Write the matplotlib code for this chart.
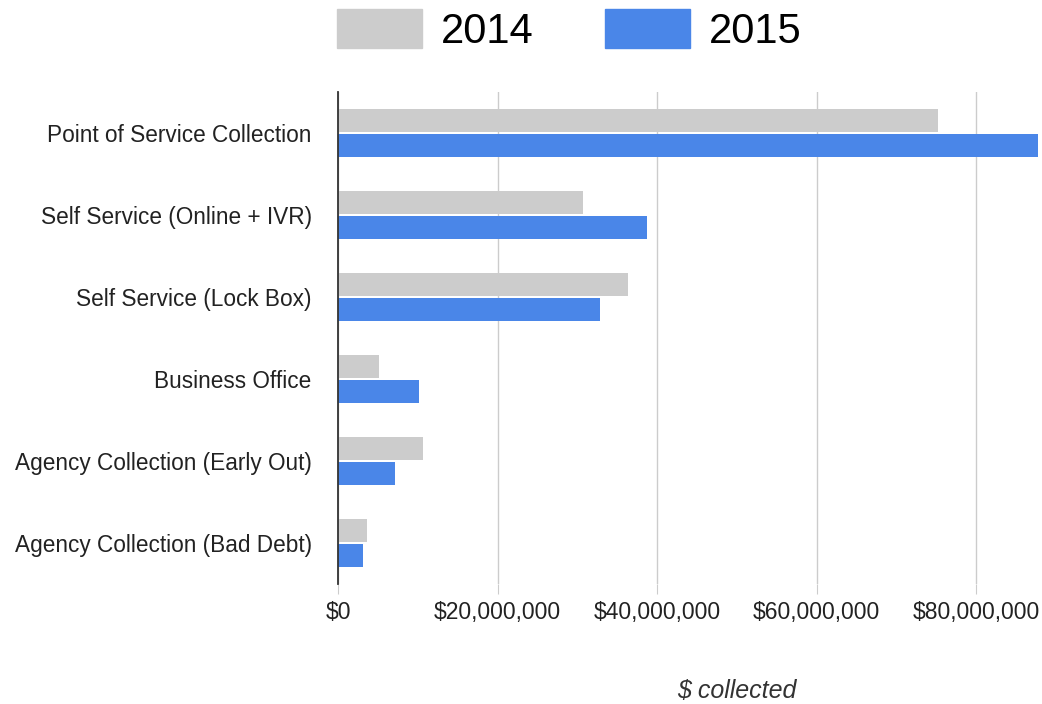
import matplotlib
matplotlib.use("Agg")
import matplotlib.pyplot as plt
from matplotlib.patches import Patch
from matplotlib.ticker import FuncFormatter

plt.rcParams['font.family'] = ['Liberation Sans', 'DejaVu Sans']

# collection channels, top to bottom
channels = [
    'Point of Service Collection',
    'Self Service (Online + IVR)',
    'Self Service (Lock Box)',
    'Business Office',
    'Agency Collection (Early Out)',
    'Agency Collection (Bad Debt)',
]
# dollars collected, in millions
collected_2014 = [75.2, 30.7, 36.3, 5.2, 10.6, 3.6]
collected_2015 = [87.8, 38.8, 32.9, 10.1, 7.1, 3.1]
x_ticks = [0, 20, 40, 60, 80]

gray = '#cccccc'
blue = '#4a86e8'

fig = plt.figure(figsize=(10.42, 7.04), dpi=100)
ax = fig.add_axes([0.3244, 0.1705, 0.672, 0.6989])

pos = list(range(len(channels)))
h = 0.28
ax.barh([p - h / 2 - 0.015 for p in pos], collected_2014, height=h, color=gray, zorder=2)
ax.barh([p + h / 2 + 0.015 for p in pos], collected_2015, height=h, color=blue, zorder=2)

ax.set_ylim(len(channels) - 0.5, -0.5)
ax.set_xlim(0, 87.8)
ax.set_yticks(pos)
ax.set_yticklabels(channels, fontsize=16.3, color='#222222')
ax.set_xticks(x_ticks)
ax.xaxis.set_major_formatter(FuncFormatter(lambda v, _: '${:,.0f}'.format(v * 1e6)))
ax.tick_params(axis='y', length=0, pad=19)
ax.tick_params(axis='x', length=7, color='#cccccc', labelsize=16.5, labelcolor='#222222', pad=5)

ax.grid(axis='x', color='#cccccc', linewidth=1, zorder=0)
for side in ['top', 'right', 'bottom']:
    ax.spines[side].set_visible(False)
ax.spines['left'].set_color('#333333')
ax.spines['left'].set_linewidth(1.3)
ax.spines['left'].set_zorder(3)

fig.text(0.707, 0.018, '$ collected', fontsize=18, style='italic',
         color='#333333', ha='center', va='center')

handles = [Patch(color=gray, label='2014'), Patch(color=blue, label='2015')]
fig.legend(handles=handles, loc='center left', bbox_to_anchor=(0.3234, 0.957),
           ncol=2, frameon=False, fontsize=30, handlelength=2.05, handleheight=1.05,
           handletextpad=0.45, columnspacing=1.7, borderpad=0, borderaxespad=0)

fig.savefig('out.png', dpi=100, facecolor='white')
